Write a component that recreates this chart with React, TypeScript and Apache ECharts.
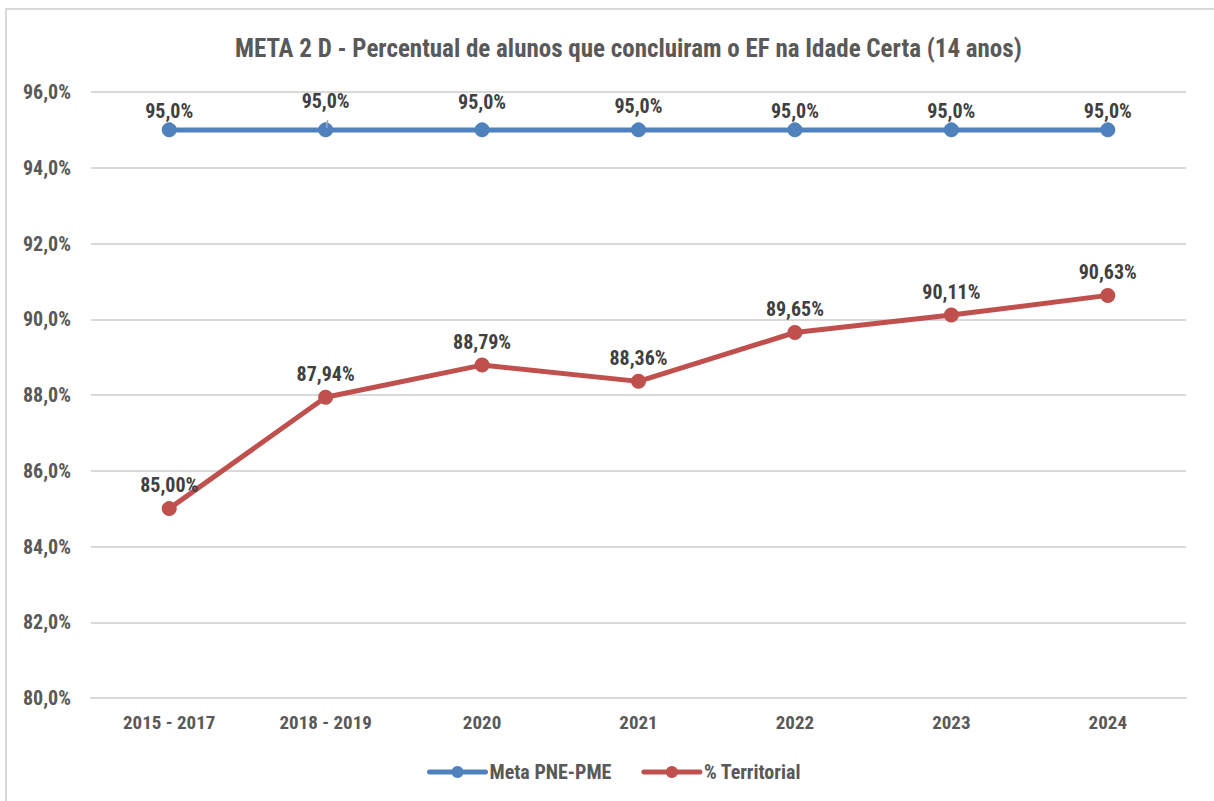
import React, { useEffect, useRef } from "react";
import * as echarts from "echarts";

const categories = ["2015 - 2017", "2018 - 2019", "2020", "2021", "2022", "2023", "2024"];
const metaValues = [95.0, 95.0, 95.0, 95.0, 95.0, 95.0, 95.0];
const territorialValues = [85.0, 87.94, 88.79, 88.36, 89.65, 90.11, 90.63];
const titleText = "META 2 D - Percentual de alunos que concluiram o EF na Idade Certa (14 anos)";
const seriesNames = ["Meta PNE-PME", "% Territorial"];
const metaLabelLift = [0, 10, 9, 5, 0, 0, 0];

const FONT = "'Liberation Sans Narrow', 'Arial Narrow', 'Roboto Condensed', 'Liberation Sans', sans-serif";

export default function App() {
  const ref = useRef<HTMLDivElement>(null);
  useEffect(() => {
    document.body.style.margin = "0";
    const chart = echarts.init(ref.current!, null, { renderer: "svg" });
    const fmtAxis = (v: number) => v.toFixed(1).replace(".", ",") + "%";
    const border = {
      type: "rect",
      shape: { x: 6, y: 9, width: 1230, height: 810 },
      style: { fill: "none", stroke: "#d9d9d9", lineWidth: 2 },
      silent: true,
    };
    chart.setOption({
      animation: false,
      backgroundColor: "#ffffff",
      textStyle: { fontFamily: FONT },
      title: {
        text: titleText,
        left: 230,
        top: 31,
        textStyle: { fontFamily: FONT, fontSize: 25, fontWeight: "bold", color: "#595959" },
      },
      graphic: [border],
      legend: {
        bottom: 14,
        left: 422,
        itemWidth: 56,
        itemHeight: 15,
        itemGap: 30,
        lineStyle: { width: 5, cap: "round" },
        textStyle: { fontFamily: FONT, fontSize: 20, fontWeight: "bold", color: "#595959", padding: [0, 0, 0, -1] },
        data: seriesNames,
      },
      grid: { left: 91, right: 28, top: 92, bottom: 103, containLabel: false },
      xAxis: {
        type: "category",
        data: categories,
        boundaryGap: true,
        axisLine: { show: true, lineStyle: { color: "#d9d9d9", width: 2 } },
        axisTick: { show: false },
        axisLabel: { fontFamily: FONT, fontSize: 19, fontWeight: "bold", color: "#595959", margin: 15 },
      },
      yAxis: {
        type: "value",
        min: 80,
        max: 96,
        interval: 2,
        axisLine: { show: false },
        axisTick: { show: false },
        splitLine: { lineStyle: { color: "#d9d9d9", width: 2 } },
        axisLabel: { fontFamily: FONT, fontSize: 20, fontWeight: "bold", color: "#595959", margin: 20, formatter: fmtAxis },
      },
      series: [
        {
          name: seriesNames[0],
          type: "line",
          data: metaValues.map((v, i) => ({ value: v, label: { offset: [0, -metaLabelLift[i]] } })),
          symbol: "circle",
          symbolSize: 15,
          lineStyle: { color: "#4F81BD", width: 5 },
          itemStyle: { color: "#4F81BD" },
          label: {
            show: true,
            position: "top",
            distance: 1,
            fontFamily: FONT,
            fontSize: 20,
            fontWeight: "bold",
            color: "#404040",
            formatter: (p: any) => Number(p.value).toFixed(1).replace(".", ",") + "%",
          },
        },
        {
          name: seriesNames[1],
          type: "line",
          data: territorialValues,
          symbol: "circle",
          symbolSize: 15,
          lineStyle: { color: "#C0504D", width: 5 },
          itemStyle: { color: "#C0504D" },
          label: {
            show: true,
            position: "top",
            distance: 6,
            fontFamily: FONT,
            fontSize: 20,
            fontWeight: "bold",
            color: "#404040",
            formatter: (p: any) => Number(p.value).toFixed(2).replace(".", ",") + "%",
          },
        },
      ],
    });
    const pt = chart.convertToPixel({ seriesIndex: 0 }, [1, metaValues[1]]) as number[];
    if (pt) {
      chart.setOption({
        graphic: [
          border,
          {
            type: "line",
            shape: { x1: pt[0] + 2, y1: pt[1] - 10, x2: pt[0] + 1, y2: pt[1] - 2 },
            style: { stroke: "#a6a6a6", lineWidth: 1.5 },
            z: 10,
            silent: true,
          },
        ],
      });
    }
    return () => chart.dispose();
  }, []);
  return <div ref={ref} style={{ width: 1214, height: 801 }} />;
}
